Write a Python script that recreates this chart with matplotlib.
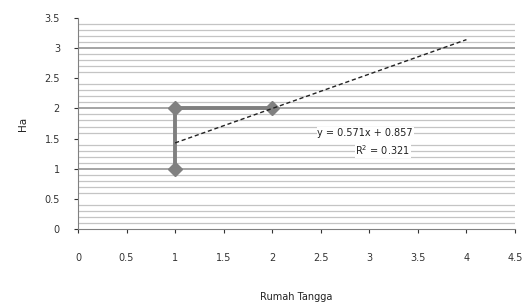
import numpy as np
import matplotlib
matplotlib.use('Agg')
import matplotlib.pyplot as plt
from matplotlib.ticker import MultipleLocator

# Data
rumah_tangga = [1, 1, 2]
ha = [1, 2, 2]

# Linear trendline as printed on the chart
slope = 0.571
intercept = 0.857
trend_x = [1, 4]
eq_text = 'y = 0.571x + 0.857'
r2_text = 'R$^2$ = 0.321'

x_ticks = [0, 0.5, 1, 1.5, 2, 2.5, 3, 3.5, 4, 4.5]
y_ticks = [0, 0.5, 1, 1.5, 2, 2.5, 3, 3.5]

fig = plt.figure(figsize=(5.27, 3.07), dpi=100)
ax = fig.add_axes([78 / 527, 1 - 229 / 307, (515 - 78) / 527, (229 - 18) / 307])

ax.set_xlim(0, 4.5)
ax.set_ylim(0, 3.5)

# gridlines: light every 0.1, darker every 1
ax.yaxis.set_minor_locator(MultipleLocator(0.1))
ax.grid(which='minor', axis='y', color='#c4c4c4', linewidth=0.9)
for v in [1, 2, 3]:
    ax.axhline(v, color='#8c8c8c', linewidth=1.1, zorder=1)
ax.set_axisbelow(True)

# series
ax.plot(rumah_tangga, ha, color='#7f7f7f', linewidth=2.8,
        marker='D', markersize=7.5, markerfacecolor='#808080',
        markeredgecolor='#808080', zorder=3)

# trendline
tx = np.array(trend_x)
ax.plot(tx, slope * tx + intercept, color='#222222', linestyle=(0, (3, 2)),
        linewidth=1.0, zorder=4)

ax.text(3.45, 1.6, eq_text, fontsize=7, ha='right', va='center', color='#222222',
        bbox=dict(facecolor='white', edgecolor='none', pad=0.5))
ax.text(3.42, 1.31, r2_text, fontsize=7, ha='right', va='center', color='#222222',
        bbox=dict(facecolor='white', edgecolor='none', pad=0.5))

ax.set_xticks(x_ticks)
ax.set_xticklabels(['0', '0.5', '1', '1.5', '2', '2.5', '3', '3.5', '4', '4.5'])
ax.set_yticks(y_ticks)
ax.set_yticklabels(['0', '0.5', '1', '1.5', '2', '2.5', '3', '3.5'])
ax.tick_params(axis='both', which='major', labelsize=7, colors='#333333',
               length=3, width=0.8, direction='out', pad=10)
ax.tick_params(axis='y', which='minor', length=0)
ax.tick_params(axis='x', pad=14)

for side in ['top', 'right']:
    ax.spines[side].set_visible(False)
ax.spines['left'].set_color('#808080')
ax.spines['bottom'].set_color('#808080')

ax.set_xlabel('Rumah Tangga', fontsize=7, color='#222222', labelpad=21)
ax.set_ylabel('Ha', fontsize=7.5, color='#222222', labelpad=12)

fig.savefig('out.png', dpi=100)
